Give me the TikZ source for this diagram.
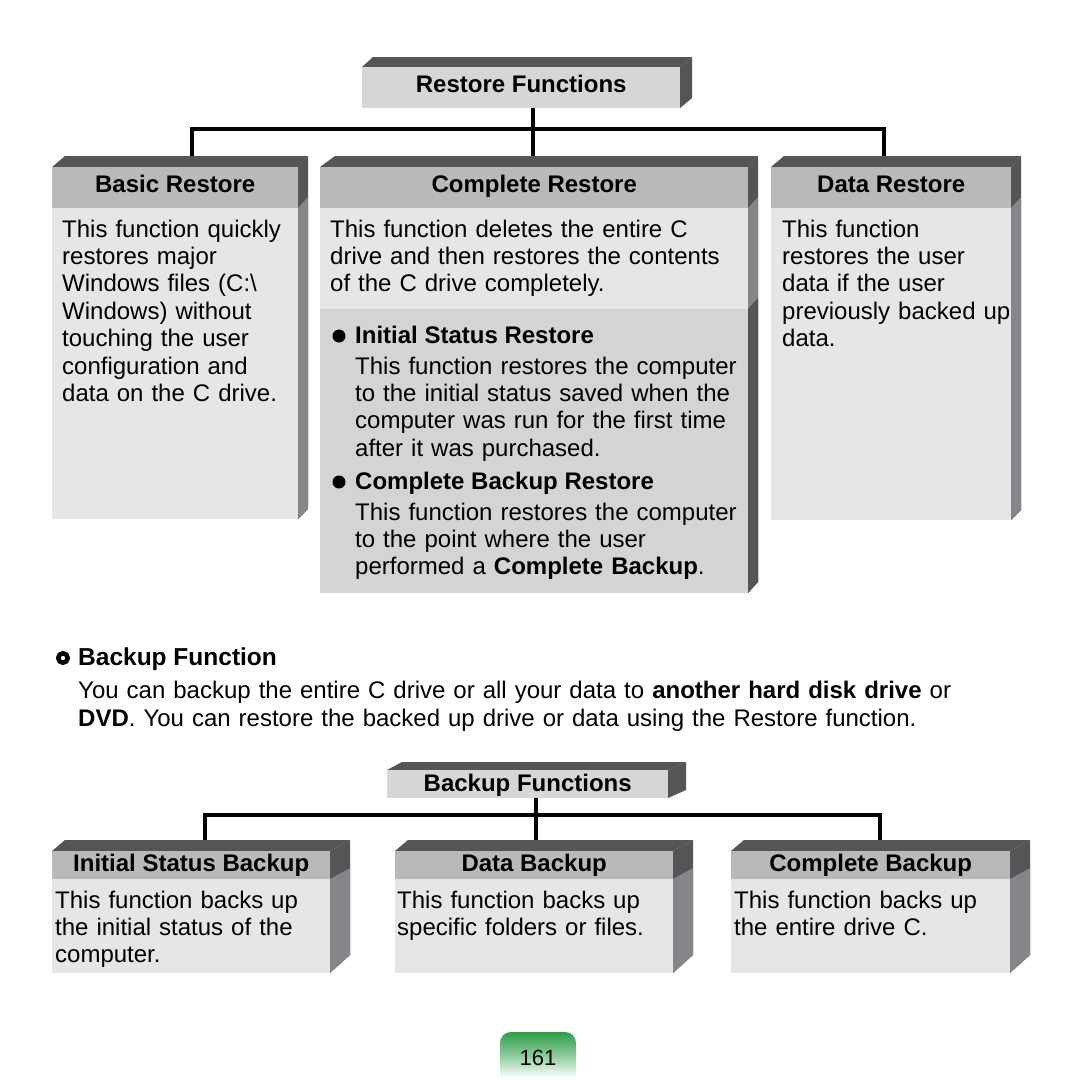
\documentclass[tikz,border=0pt]{standalone}
\usepackage{fontspec}
\setmainfont{Liberation Sans}
\usetikzlibrary{calc}
\pgfdeclarelayer{background}
\pgfdeclarelayer{paper}
\pgfsetlayers{paper,background,main}
\definecolor{topdark}{HTML}{555557}
\definecolor{sidemid}{HTML}{86868A}
\definecolor{headgray}{HTML}{B9B9BB}
\definecolor{bodylight}{HTML}{E6E6E7}
\definecolor{bodymid}{HTML}{D4D4D6}
\definecolor{titlefill}{HTML}{D6D6D8}
\definecolor{pagegreen}{HTML}{2E9E4A}
\newcommand{\cubesides}[9]{%
 \fill[topdark] (#1,#3) -- ({#1+#6},{#3-#8}) -- ({#2+#7},{#3-#8}) -- (#2,#3) -- cycle;
 \fill[topdark] (#2,#3) -- ({#2+#7},{#3-#8}) -- ({#2+#7},{#5-#9}) -- (#2,#5) -- cycle;
 \fill[sidemid] (#2,#4) -- ({#2+#7},{#4-#8}) -- ({#2+#7},{#5-#9}) -- (#2,#5) -- cycle;
}
\tikzset{
 hdr/.style={fill=headgray, inner sep=0pt, anchor=north west, font=\bfseries\fontsize{24}{27}\selectfont, text height=17.4pt, text depth=8pt},
 bodybox/.style={fill=bodylight, inner sep=0pt, anchor=north west},
 bodytxt/.style={inner sep=0pt, anchor=base west, align=left, text width=#1, font=\fontsize{24}{27.4}\selectfont},
 boldtxt/.style={inner sep=0pt, anchor=base west, font=\bfseries\fontsize{24}{27.4}\selectfont},
 conn/.style={line width=4.5pt, line join=miter},
 dot/.style={circle, fill=black, minimum size=13pt, inner sep=0pt}
}
\begin{document}
\begin{tikzpicture}[x=1pt,y=-1pt]
\useasboundingbox (0,0) rectangle (1080,1080);
\begin{pgfonlayer}{paper}
\fill[white] (0,0) rectangle (1080,1080);
\end{pgfonlayer}

% ---------- Restore Functions ----------
\cubesides{362}{680}{67}{108}{108}{11}{12}{10}{10}
\node[hdr, fill=titlefill, minimum width=318pt, minimum height=41pt] (rf) at (362,67) {Restore Functions};

% Basic Restore
\cubesides{52}{298}{167}{208}{519}{13}{10}{11}{10}
\node[hdr, minimum width=246pt, minimum height=41pt] (br) at (52,167) {Basic Restore};
\node[bodybox, minimum width=246pt, minimum height=311pt] (brb) at (52,208) {};
\node[bodytxt=240pt] (brt) at (62,237) {This function quickly\\restores major\\Windows files (C:\textbackslash\\Windows) without\\touching the user\\configuration and\\data on the C drive.};

% Complete Restore
\cubesides{320}{748}{167}{208}{593}{15}{10}{11}{11}
\fill[topdark] (748,309) -- (758,298) -- (758,582) -- (748,593) -- cycle;
\node[hdr, minimum width=428pt, minimum height=41pt] (cr) at (320,167) {Complete Restore};
\node[bodybox, minimum width=428pt, minimum height=101pt] (crb) at (320,208) {};
\node[bodybox, fill=bodymid, minimum width=428pt, minimum height=284pt] (crb2) at (320,309) {};
\node[bodytxt=420pt] (crt) at (330,237) {This function deletes the entire C\\drive and then restores the contents\\of the C drive completely.};
\node[dot] (d1) at (339,336) {};
\node[boldtxt] (isr) at (355,343) {Initial Status Restore};
\node[bodytxt=390pt] (isrt) at (355,374) {This function restores the computer\\to the initial status saved when the\\computer was run for the first time\\after it was purchased.};
\node[dot] (d2) at (339,482) {};
\node[boldtxt] (cbr) at (355,489) {Complete Backup Restore};
\node[bodytxt=390pt] (cbrt) at (355,520) {This function restores the computer\\to the point where the user\\performed a \textbf{Complete Backup}.};

% Data Restore
\cubesides{771}{1011}{167}{208}{520}{13}{10}{11}{10}
\node[hdr, minimum width=240pt, minimum height=41pt] (dr) at (771,167) {Data Restore};
\node[bodybox, minimum width=240pt, minimum height=312pt] (drb) at (771,208) {};
\node[bodytxt=240pt] (drt) at (782,237) {This function\\restores the user\\data if the user\\previously backed up\\data.};

% connectors restore
\coordinate (rfb) at (533,104);
\coordinate (crtop) at (533,160);
\coordinate (brtop) at (192,160);
\coordinate (drtop) at (884,160);
\coordinate (hl) at (192,129);
\coordinate (hr) at (884,129);
\begin{pgfonlayer}{background}
\draw[conn] (brtop) -- (hl) -- (hr) -- (drtop);
\draw[conn] (rfb) -- (crtop);
\end{pgfonlayer}

% ---------- Backup Function text ----------
\node[circle, draw=black, line width=4.5pt, minimum size=9.5pt, inner sep=0pt] (ring) at (63,658) {};
\node[boldtxt, font=\bfseries\fontsize{24.5}{27}\selectfont] (bfh) at (78,665) {Backup Function};
\node[bodytxt=980pt, font=\fontsize{24}{28}\selectfont] (bfp) at (78,698) {You can backup the entire C drive or all your data to \textbf{another hard disk drive} or\\\textbf{DVD}. You can restore the backed up drive or data using the Restore function.};

% ---------- Backup Functions ----------
\cubesides{387}{668}{770}{798}{798}{15}{18}{8}{8}
\node[hdr, fill=titlefill, text depth=3pt, minimum width=281pt, minimum height=28pt] (bf) at (387,770) {Backup Functions};

\cubesides{52}{330}{851}{879}{973}{13}{20}{11}{18}
\node[hdr, text depth=5pt, minimum width=278pt, minimum height=28pt] (isb) at (52,851) {Initial Status Backup};
\node[bodybox, minimum width=278pt, minimum height=94pt] (isbb) at (52,879) {};
\node[bodytxt=275pt] (isbt) at (55,908) {This function backs up\\the initial status of the\\computer.};

\cubesides{395}{673}{851}{879}{973}{13}{20}{11}{18}
\node[hdr, text depth=5pt, minimum width=278pt, minimum height=28pt] (db) at (395,851) {Data Backup};
\node[bodybox, minimum width=278pt, minimum height=94pt] (dbb) at (395,879) {};
\node[bodytxt=275pt] (dbt) at (397,908) {This function backs up\\specific folders or files.};

\cubesides{731}{1010}{851}{879}{973}{13}{20}{11}{18}
\node[hdr, text depth=5pt, minimum width=279pt, minimum height=28pt] (cb) at (731,851) {Complete Backup};
\node[bodybox, minimum width=279pt, minimum height=94pt] (cbb) at (731,879) {};
\node[bodytxt=275pt] (cbt) at (734,908) {This function backs up\\the entire drive C.};

\coordinate (bfb) at (536,795);
\coordinate (dbtop) at (536,844);
\coordinate (isbtop) at (205,844);
\coordinate (cbtop) at (880,844);
\coordinate (bhl) at (205,815);
\coordinate (bhr) at (880,815);
\begin{pgfonlayer}{background}
\draw[conn] (isbtop) -- (bhl) -- (bhr) -- (cbtop);
\draw[conn] (bfb) -- (dbtop);
\end{pgfonlayer}

% ---------- page number ----------
\shade[top color=pagegreen, bottom color=white, middle color=pagegreen!55!white]
  (500,1078) {[rounded corners=11pt] -- (500,1032) -- (576,1032)} -- (576,1078) -- cycle;
\node[inner sep=0pt, anchor=base, font=\fontsize{22}{24}\selectfont] (pg) at (538,1065) {161};
\end{tikzpicture}
\end{document}
